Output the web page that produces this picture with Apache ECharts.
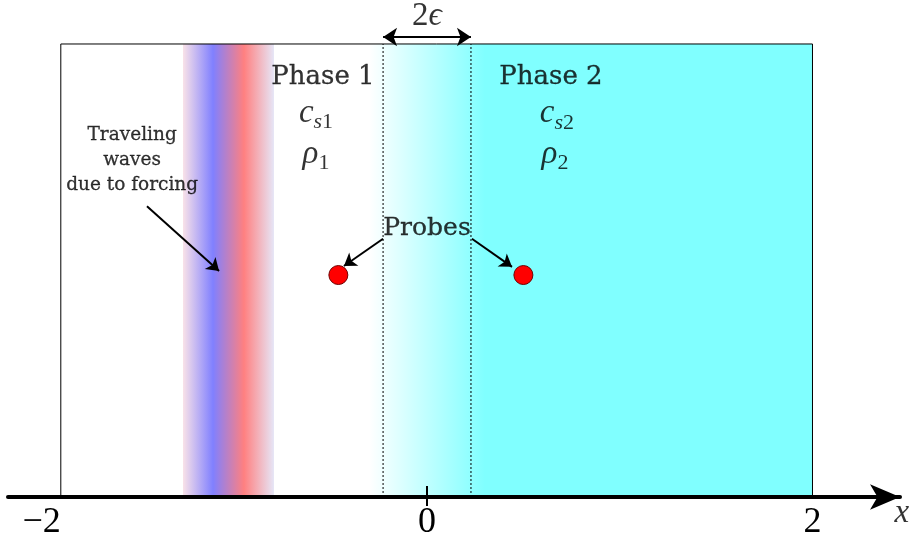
<!DOCTYPE html>
<html><head><meta charset="utf-8">
<script src="https://cdn.jsdelivr.net/npm/echarts@6/dist/echarts.min.js"></script>
<style>html,body{margin:0;padding:0;background:#fff}#c{width:912px;height:542px}</style>
</head><body><div id="c"></div>
<script>
// ---- data (in axis units) ----
const xRange = [-2.174, 2.454];
const yRange = [0, 1.0971];
const tickLabels = [-2, 0, 2];
const tickMarks = [0];
const boxX = [-1.9, 2.0];
const boxY = [0, 1];
const eps = 0.228;
const interfaceBlendX = [-0.3, 0.3];
const phase2SolidX = [0.29, 2.0];
const waveBandX = [-1.266, -0.794];
const probesX = [-0.46, 0.5];
const probesY = [0.49, 0.49];
const epsArrowY = 1.0155;
const arrowFromX = [-1.453, -0.228, 0.233];
const arrowFromY = [0.642, 0.570, 0.570];
const arrowToX = [-1.079, -0.431, 0.441];
const arrowToY = [0.499, 0.510, 0.508];
const textX = [-0.540, 0.643, -1.530, 0];
const textY = [0.927, 0.927, 0.744, 0.592];
const textContent = ['Phase 1', 'Phase 2', 'Traveling\nwaves\ndue to forcing', 'Probes'];
const mathX = [-0.576, 0.674, -0.576, 0.664, 0, 2.464];
const mathY = [0.848, 0.846, 0.756, 0.756, 1.062, -0.036];
const mathContent = ['{m|c}{si|s}{sn|1}', '{m|c}{si|s}{sn|2}', '{m|\u03c1}{sn|1}', '{m|\u03c1}{sn|2}', '{u|2}{m|\u03f5}', '{m|x}'];

// ---- chart ----
const chart = echarts.init(document.getElementById('c'), null, {renderer: 'canvas'});
const SERIF = '"Liberation Serif", "Times New Roman", "DejaVu Serif", serif';

function rectRender(fillFn) {
  return function (params, api) {
    const p0 = api.coord([api.value(0), api.value(3)]);
    const p1 = api.coord([api.value(1), api.value(2)]);
    return {type: 'rect', shape: {x: p0[0], y: p0[1], width: p1[0] - p0[0], height: p1[1] - p0[1]}, style: fillFn()};
  };
}

const mathRich = {
  m: {fontFamily: SERIF, fontStyle: 'italic', fontSize: 33, color: '#000'},
  u: {fontFamily: SERIF, fontSize: 33, color: '#000'},
  si: {fontFamily: SERIF, fontStyle: 'italic', fontSize: 22, color: '#000', padding: [18, 0, 0, 0]},
  sn: {fontFamily: SERIF, fontSize: 22, color: '#000', padding: [18, 0, 0, 0]}
};

const option = {
  animation: false,
  grid: {left: 8, right: 12, top: 0, bottom: 45, containLabel: false, outerBoundsMode: 'none'},
  xAxis: {
    type: 'value', min: xRange[0], max: xRange[1], z: 5,
    axisLine: {onZero: false, lineStyle: {color: '#000', width: 4}, symbol: ['none', 'arrow'], symbolSize: [19, 30]},
    axisTick: {show: false}, splitLine: {show: false},
    axisLabel: {customValues: tickLabels, formatter: v => v < 0 ? '\u2212' + Math.abs(v) : String(v),
      fontFamily: SERIF, fontSize: 36, color: '#000', margin: 8}
  },
  yAxis: {type: 'value', min: yRange[0], max: yRange[1], show: false, splitLine: {show: false}},
  series: [
    {type: 'custom', z: 1, silent: true, data: [[phase2SolidX[0], phase2SolidX[1], boxY[0], boxY[1]]],
      renderItem: rectRender(() => ({fill: '#80ffff'}))},
    {type: 'custom', z: 1, silent: true, data: [[interfaceBlendX[0], interfaceBlendX[1], boxY[0], boxY[1]]],
      renderItem: rectRender(() => ({fill: new echarts.graphic.LinearGradient(0, 0, 1, 0, [
        {offset: 0, color: '#ffffff'}, {offset: 1, color: '#80ffff'}])}))},
    {type: 'custom', z: 1, silent: true, data: [[waveBandX[0], waveBandX[1], boxY[0], boxY[1]]],
      renderItem: rectRender(() => ({fill: new echarts.graphic.LinearGradient(0, 0, 1, 0, [
        {offset: 0, color: '#f9e2e8'}, {offset: 0.33, color: '#8080ff'},
        {offset: 0.67, color: '#ff8080'}, {offset: 1, color: '#e6e6f7'}])}))},
    {type: 'custom', z: 3, silent: true, data: [[boxX[0], boxX[1], boxY[0], boxY[1]]],
      renderItem: rectRender(() => ({fill: 'none', stroke: '#000', lineWidth: 1}))},
    {type: 'custom', z: 3, silent: true, data: [[-eps], [eps]],
      renderItem: function (params, api) {
        const a = api.coord([api.value(0), boxY[0]]);
        const b = api.coord([api.value(0), boxY[1]]);
        return {type: 'line', shape: {x1: a[0], y1: a[1], x2: b[0], y2: b[1]},
          style: {stroke: '#000', lineWidth: 1, lineDash: [2, 2]}};
      }},
    {type: 'custom', z: 6, silent: true, clip: false, data: tickMarks.map(v => [v]),
      renderItem: function (params, api) {
        const a = api.coord([api.value(0), 0]);
        return {type: 'line', shape: {x1: a[0], y1: a[1] - 11, x2: a[0], y2: a[1] + 9},
          style: {stroke: '#000', lineWidth: 2}};
      }},
    {type: 'lines', coordinateSystem: 'cartesian2d', z: 8, silent: true,
      symbol: ['arrow', 'arrow'], symbolSize: 14,
      lineStyle: {color: '#000', width: 2, opacity: 1, curveness: 0},
      data: [{coords: [[-eps, epsArrowY], [eps, epsArrowY]]}]},
    {type: 'lines', coordinateSystem: 'cartesian2d', z: 8, silent: true,
      symbol: ['none', 'arrow'], symbolSize: 12,
      lineStyle: {color: '#000', width: 2, opacity: 1, curveness: 0},
      data: arrowFromX.map((x, i) => ({coords: [[x, arrowFromY[i]], [arrowToX[i], arrowToY[i]]]}))},
    {type: 'scatter', z: 9, silent: true, symbolSize: 19,
      itemStyle: {color: '#ff0000', borderColor: '#700000', borderWidth: 1, opacity: 1},
      data: probesX.map((x, i) => [x, probesY[i]])},
    {type: 'scatter', z: 10, silent: true, symbolSize: 0, clip: false,
      data: textX.map((x, i) => ({value: [x, textY[i]], label: {formatter: textContent[i], color: '#000',
        fontSize: i === 2 ? 18.5 : (i === 3 ? 25 : 26), lineHeight: i === 2 ? 25 : 30}})),
      label: {show: true, position: 'inside', fontFamily: 'DejaVu Serif', color: '#000',
        textBorderColor: '#000', textBorderWidth: 0.3, align: 'center', verticalAlign: 'middle'}},
    {type: 'scatter', z: 10, silent: true, symbolSize: 0, clip: false,
      data: mathX.map((x, i) => ({value: [x, mathY[i]], label: {formatter: mathContent[i]}})),
      label: {show: true, position: 'inside', rich: mathRich, align: 'center', verticalAlign: 'middle'}}
  ]
};
chart.setOption(option);
</script></body></html>
